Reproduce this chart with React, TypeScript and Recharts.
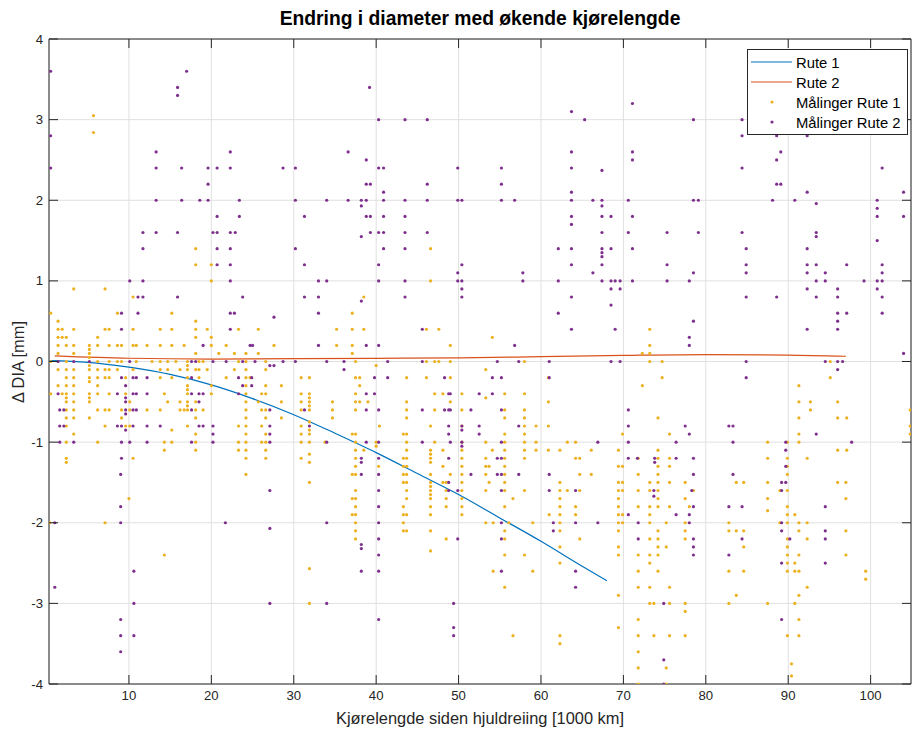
import React from 'react';
import {
  ScatterChart,
  Scatter,
  XAxis,
  YAxis,
  CartesianGrid,
  ReferenceLine,
  Legend,
} from 'recharts';

const FONT = '"Liberation Sans", Arial, Helvetica, sans-serif';
const AXIS = '#262626';
const GRID = '#e0e0e0';
const BLUE = '#0072BD';
const RED = '#D95319';
const YELLOW = '#EDB120';
const PURPLE = '#7E2F8E';

// plot box in page pixels (margins + axis sizes below give these)
const PLOT_TOP = 39;
const PLOT_LEFT = 49;
const PLOT_RIGHT = 911;

const xTicks = [10, 20, 30, 40, 50, 60, 70, 80, 90, 100];
const yTicks = [-4, -3, -2, -1, 0, 1, 2, 3, 4];
const xDomain: [number, number] = [0.3, 104.9];
const yDomain: [number, number] = [-4, 4];

// fitted curves
const rute1X = [0.3, 5, 10, 15, 20, 25, 30, 35, 40, 45, 50, 55, 60, 65, 68];
const rute1Y = [0.01, -0.01, -0.07, -0.16, -0.29, -0.46, -0.66, -0.89, -1.13, -1.39, -1.65, -1.94, -2.23, -2.54, -2.72];
const rute2X = [1, 10, 20, 30, 40, 50, 60, 70, 80, 90, 97];
const rute2Y = [0.07, 0.04, 0.03, 0.035, 0.04, 0.045, 0.06, 0.075, 0.085, 0.08, 0.065];

// measurements, grouped by delta value: [dDIA, kilometres...]
const maalingerRute1: [number, number[]][] = [
  [3.05, [5.7]],
  [2.84, [5.7]],
  [1.4, [18.1, 46.6]],
  [1.2, [18.1, 20.0]],
  [1.0, [20.0, 46.6]],
  [0.9, [3.3, 7.1]],
  [0.8, [10.5, 38.5]],
  [0.6, [0.5, 8.6, 15.2, 37.1]],
  [0.5, [1.4, 18.1]],
  [0.4, [1.4, 1.9, 3.3, 7.1, 7.6, 10.5, 13.8, 15.2, 18.1, 19.5, 23.3, 25.7, 35.2, 37.1, 38.5, 46.1, 47.6, 73.2]],
  [0.3, [1.4, 1.9, 2.4, 6.2, 18.1, 20.0, 54.1]],
  [0.2, [1.4, 2.4, 3.3, 5.2, 6.2, 7.6, 8.6, 9.1, 10.5, 10.9, 12.2, 13.8, 15.2, 16.7, 20.0, 21.8, 27.6, 35.2, 37.1, 49.0, 73.2]],
  [0.15, [5.2]],
  [0.1, [1.4, 3.3, 5.2, 18.1, 20.9, 22.8, 24.2, 25.7, 37.1, 72.3, 73.2]],
  [0.05, [5.2]],
  [0.0, [0.5, 2.4, 6.2, 7.6, 8.6, 9.1, 10.9, 12.8, 13.8, 14.7, 15.7, 17.1, 18.5, 19.0, 23.3, 24.2, 26.6, 37.5, 46.1, 47.1, 47.6, 49.0, 58.0, 73.2, 74.7, 95.1]],
  [-0.05, [5.2, 17.1, 40.0]],
  [-0.1, [1.4, 2.4, 3.3, 5.2, 6.2, 7.1, 7.6, 8.6, 10.5, 13.8, 14.7, 16.2, 17.1, 18.1, 18.5, 19.5, 22.8, 24.2, 26.6, 53.3]],
  [-0.2, [2.4, 3.3, 5.2, 6.2, 7.1, 7.6, 9.6, 13.8, 15.2, 17.1, 18.5, 21.8, 24.2, 24.7, 30.9, 31.9, 37.5, 38.0, 43.7, 46.1, 49.0, 60.9, 74.7, 95.1]],
  [-0.25, [5.2]],
  [-0.3, [1.4, 2.4, 3.3, 6.2, 17.1, 20.0, 24.2, 26.6, 28.5, 38.0, 72.3, 91.3]],
  [-0.35, [17.1]],
  [-0.4, [0.5, 1.9, 2.4, 3.3, 5.2, 6.2, 7.6, 9.6, 14.3, 17.1, 20.0, 24.2, 26.1, 26.6, 30.9, 31.9, 37.5, 47.1, 48.1, 50.4, 55.6, 58.0]],
  [-0.45, [2.4, 5.2, 31.9, 53.3]],
  [-0.5, [2.4, 3.3, 5.2, 10.1, 14.7, 16.2, 17.1, 18.1, 24.2, 25.7, 28.5, 30.9, 31.9, 34.7, 37.5, 38.0, 39.0, 43.7, 49.0, 60.9, 91.3, 92.7, 96.0]],
  [-0.55, [17.1, 31.9]],
  [-0.6, [2.4, 3.3, 6.2, 7.1, 7.6, 9.1, 10.1, 12.2, 13.8, 16.2, 16.7, 17.1, 18.1, 19.0, 24.2, 26.1, 26.6, 30.9, 31.9, 34.7, 37.5, 43.7, 47.1, 50.4, 55.6, 58.0, 92.7, 104.8]],
  [-0.7, [2.4, 3.3, 5.2, 9.1, 18.1, 24.2, 26.6, 28.5, 34.7, 43.7, 55.6, 58.0, 74.2, 91.3, 96.0, 97.1]],
  [-0.75, [31.9]],
  [-0.8, [2.4, 7.1, 9.6, 10.1, 17.1, 23.3, 24.2, 26.1, 30.9, 40.4, 46.6, 50.4, 58.0, 59.4, 60.9, 104.8]],
  [-0.85, [15.2, 31.9]],
  [-0.9, [3.3, 18.1, 24.2, 26.6, 30.9, 31.9, 37.1, 37.5, 43.3, 43.7, 55.6, 58.0, 69.9, 75.6, 91.3, 104.8]],
  [-1.0, [2.4, 6.2, 14.3, 15.2, 18.1, 23.3, 24.2, 26.1, 26.6, 30.9, 31.9, 33.8, 37.5, 40.0, 43.7, 47.1, 50.4, 53.3, 55.6, 58.0, 59.4, 63.2, 64.2, 87.5, 89.9, 91.3]],
  [-1.05, [40.0]],
  [-1.1, [14.3, 18.1, 23.3, 24.2, 26.6, 37.5, 38.5, 43.7, 46.6, 48.1, 50.4, 54.1, 55.6, 58.0, 59.4, 60.9, 62.3, 66.1, 69.4, 74.2, 96.0, 97.1]],
  [-1.15, [31.9, 46.6]],
  [-1.2, [2.4, 10.5, 24.2, 26.6, 30.9, 37.5, 43.3, 43.7, 46.6, 50.4, 53.3, 55.6, 58.0, 64.2, 64.7, 71.8, 74.2, 75.6, 87.5, 89.9, 92.3]],
  [-1.25, [2.4, 31.9, 46.6]],
  [-1.3, [37.5, 40.3, 43.3, 43.7, 48.1, 50.4, 53.3, 53.7, 55.6, 69.4, 69.9, 74.2, 75.6, 89.9]],
  [-1.4, [24.2, 37.1, 37.5, 43.3, 43.7, 46.6, 49.0, 50.4, 53.3, 55.6, 64.7, 66.1, 71.8, 74.2, 89.9]],
  [-1.5, [31.9, 43.3, 43.7, 46.6, 48.1, 48.5, 50.4, 53.7, 55.6, 62.3, 69.4, 69.9, 73.2, 74.2, 75.6, 77.5, 83.7, 84.6, 87.5, 96.0, 97.0]],
  [-1.55, [46.6]],
  [-1.6, [37.5, 43.7, 46.6, 48.5, 50.4, 53.3, 55.6, 58.0, 62.3, 63.2, 64.7, 69.4, 69.9, 71.8, 73.2, 74.2, 78.5, 89.0, 89.9]],
  [-1.65, [46.6]],
  [-1.7, [10.0, 37.1, 37.5, 43.7, 46.6, 48.5, 50.4, 56.6, 62.3, 69.4, 74.2, 77.5, 87.5, 97.0]],
  [-1.8, [37.5, 43.3, 46.6, 48.5, 50.4, 55.6, 62.3, 64.2, 69.4, 71.8, 73.2, 74.2, 75.6, 78.0, 89.9]],
  [-1.85, [87.5]],
  [-1.9, [37.1, 37.5, 43.3, 43.7, 46.6, 50.4, 61.0, 62.3, 64.2, 69.4, 69.9, 73.2, 89.9, 90.8]],
  [-2.0, [0.4, 7.1, 37.5, 43.3, 53.3, 54.2, 56.1, 59.0, 62.3, 69.4, 69.9, 73.2, 75.2, 77.5, 82.8, 89.0, 89.9, 91.3, 92.3]],
  [-2.1, [37.5, 43.3, 43.7, 46.6, 55.6, 62.3, 69.4, 74.2, 77.5, 82.8, 83.7, 84.6, 91.3, 97.0]],
  [-2.2, [37.5, 48.5, 55.6, 64.7, 73.2, 74.2, 77.5, 89.9, 92.3]],
  [-2.3, [62.3, 69.4, 74.2, 75.2, 84.6, 89.9]],
  [-2.35, [46.6]],
  [-2.4, [14.3, 55.6, 58.0, 69.4, 71.8, 73.2, 74.2, 89.9, 91.3, 97.0]],
  [-2.5, [62.3, 73.2, 89.9, 90.8]],
  [-2.57, [31.9]],
  [-2.6, [54.2, 59.0, 71.8, 74.2, 82.8, 84.6, 89.9, 90.8, 91.3, 99.4]],
  [-2.7, [99.4]],
  [-2.8, [55.6, 71.8, 73.2, 75.6, 92.3]],
  [-2.9, [69.4, 83.7, 91.3]],
  [-3.0, [31.9, 73.2, 73.7, 75.6, 77.5, 82.8, 87.5, 90.8]],
  [-3.1, [77.5]],
  [-3.2, [71.8, 91.3]],
  [-3.3, [69.4]],
  [-3.4, [56.6, 62.3, 71.8, 73.7, 75.6, 77.5, 89.9, 91.3]],
  [-3.5, [62.3]],
  [-3.6, [71.8]],
  [-3.75, [90.4]],
  [-3.8, [71.8, 75.2]],
  [-3.9, [90.4]],
  [-4.0, [71.8, 75.2]],
];

const maalingerRute2: [number, number[]][] = [
  [3.6, [0.5, 17.0]],
  [3.4, [15.9, 39.2]],
  [3.3, [15.9]],
  [3.2, [71.1]],
  [3.1, [63.7]],
  [3.0, [40.3, 43.5, 46.2, 65.3, 78.5, 84.4]],
  [2.8, [0.5, 84.4, 88.6, 92.3]],
  [2.6, [13.3, 22.3, 36.6, 63.7, 71.1, 89.1]],
  [2.5, [38.8, 71.1, 88.6]],
  [2.4, [0.5, 13.3, 16.4, 19.6, 20.7, 22.3, 28.7, 30.2, 40.3, 40.9, 49.9, 55.2, 63.7, 84.4, 101.4]],
  [2.37, [67.4]],
  [2.2, [19.6, 38.8, 39.3, 46.2, 55.2, 88.6, 89.1]],
  [2.1, [40.9, 63.7, 92.3, 104.0]],
  [2.0, [13.3, 16.4, 18.6, 19.6, 23.4, 30.2, 34.0, 36.6, 38.2, 38.8, 40.9, 43.5, 46.2, 49.9, 50.4, 55.2, 56.8, 63.7, 66.3, 67.4, 70.6, 78.5, 79.1, 88.1, 90.8, 100.8]],
  [1.96, [93.4]],
  [1.93, [38.2, 67.4]],
  [1.9, [100.8]],
  [1.8, [20.7, 23.4, 31.3, 38.8, 39.3, 40.9, 43.5, 63.7, 67.4, 68.5, 71.1, 100.8, 104.0]],
  [1.7, [63.7]],
  [1.6, [11.7, 13.3, 15.9, 20.2, 20.7, 22.3, 22.9, 39.3, 40.3, 40.9, 43.5, 46.2, 67.4, 70.6, 75.3, 79.1, 84.4, 93.4]],
  [1.55, [38.2, 93.4]],
  [1.5, [100.8]],
  [1.4, [11.7, 20.7, 22.3, 30.2, 40.9, 43.5, 62.1, 63.7, 67.4, 68.5, 71.1, 84.9, 92.3]],
  [1.35, [67.4]],
  [1.3, [67.4]],
  [1.2, [20.7, 22.3, 31.3, 40.3, 50.4, 63.7, 67.4, 75.3, 84.9, 92.3, 93.4, 97.1, 101.4]],
  [1.1, [49.9, 57.8, 66.3, 78.5, 84.9, 92.3, 94.5, 101.4]],
  [1.0, [10.1, 11.7, 22.3, 33.0, 34.0, 40.3, 43.5, 49.9, 50.4, 57.8, 62.1, 67.4, 68.5, 69.0, 69.6, 71.1, 75.3, 78.0, 93.4, 94.5, 99.2, 100.8, 101.4]],
  [0.9, [50.4, 68.5, 69.6, 92.3, 96.0, 100.8]],
  [0.8, [11.1, 11.7, 15.9, 23.8, 31.3, 33.0, 43.5, 50.4, 63.7, 84.9, 88.6, 93.4, 96.0, 101.4]],
  [0.75, [38.2]],
  [0.7, [68.5]],
  [0.6, [9.1, 11.1, 22.3, 22.8, 33.0, 62.1, 96.0, 97.1, 101.4]],
  [0.55, [27.6]],
  [0.5, [78.5, 96.0]],
  [0.4, [9.1, 22.3, 45.6, 63.7, 69.0, 92.3, 96.0]],
  [0.3, [78.0]],
  [0.2, [19.0, 24.7, 25.0, 33.0, 38.8, 40.3, 56.8, 78.0]],
  [0.1, [104.0]],
  [0.0, [1.4, 3.3, 5.2, 10.1, 17.6, 18.1, 20.2, 21.8, 23.8, 25.3, 28.7, 30.2, 34.0, 36.1, 41.4, 45.6, 54.7, 57.3, 61.0, 68.5, 69.6, 84.9, 94.5, 96.0, 96.6]],
  [-0.05, [27.1, 27.6]],
  [-0.1, [36.1, 96.0]],
  [-0.2, [9.1, 10.5, 10.9, 12.2, 17.6, 23.3, 24.9, 39.8, 41.4, 48.3, 54.1, 55.2, 61.0, 84.9]],
  [-0.3, [9.6, 23.8, 24.9]],
  [-0.4, [1.4, 8.6, 10.5, 10.9, 12.2, 17.6, 18.5, 19.0, 23.3, 38.8, 39.8, 48.8, 49.0, 52.5, 54.1]],
  [-0.45, [9.6]],
  [-0.5, [9.6, 18.5]],
  [-0.6, [1.6, 2.1, 9.6, 10.5, 10.9, 17.6, 27.1, 31.3, 38.8, 40.3, 45.6, 48.3, 48.8, 49.0, 51.5, 55.2, 70.6]],
  [-0.65, [9.6]],
  [-0.8, [1.6, 2.1, 8.6, 9.1, 10.5, 12.2, 13.8, 18.5, 19.0, 20.2, 27.1, 31.9, 48.8, 50.4, 52.5, 57.3, 70.6, 77.5, 82.8, 83.3]],
  [-0.85, [9.6, 50.4]],
  [-0.9, [20.2, 27.1, 48.8, 52.5, 78.0, 93.4]],
  [-1.0, [1.6, 3.3, 9.1, 10.1, 12.2, 17.6, 20.2, 27.1, 34.0, 38.8, 40.3, 45.6, 49.0, 50.4, 55.2, 66.9, 70.6, 76.4, 83.3, 89.7, 97.7]],
  [-1.05, [50.4]],
  [-1.1, [89.7]],
  [-1.2, [9.1, 38.2, 40.3, 48.8, 54.7, 55.2, 70.6, 71.7, 73.8, 76.4, 78.5]],
  [-1.25, [38.2, 73.8]],
  [-1.3, [89.7]],
  [-1.4, [9.0, 38.2, 40.3, 51.5, 54.7, 55.2, 57.3, 61.0, 78.5, 83.3]],
  [-1.5, [48.8, 89.2, 89.7]],
  [-1.6, [27.1, 40.3, 48.8, 49.9, 55.2, 61.0, 64.2, 73.7, 78.3, 89.2]],
  [-1.67, [73.7]],
  [-1.8, [9.0, 40.3, 78.5, 82.8, 84.4, 94.5]],
  [-1.9, [70.6, 76.4, 78.0]],
  [-2.0, [1.0, 9.0, 21.7, 34.0, 40.3, 55.2, 61.5, 64.2, 66.9, 71.8, 78.0, 89.2]],
  [-2.07, [27.1]],
  [-2.1, [61.5, 89.2, 94.5]],
  [-2.2, [40.3, 49.9, 55.2, 71.8, 78.5, 84.4, 90.2, 94.5]],
  [-2.27, [38.2]],
  [-2.3, [78.5]],
  [-2.32, [38.2]],
  [-2.4, [40.3, 78.5, 82.8]],
  [-2.5, [89.2, 94.5]],
  [-2.6, [10.6, 38.2, 40.3, 55.2, 64.2]],
  [-2.8, [1.0, 64.2]],
  [-3.0, [10.6, 27.1, 34.0, 49.4, 74.9]],
  [-3.2, [9.0, 40.3, 89.2]],
  [-3.3, [49.4]],
  [-3.4, [9.0, 10.6, 49.4]],
  [-3.6, [9.0]],
  [-3.7, [74.9]],
  [-4.0, [74.9]],
];

const zipLine = (xs: number[], ys: number[]) => xs.map((x, i) => ({ x, y: ys[i] }));
const flattenRows = (rows: [number, number[]][]) =>
  rows.flatMap(([y, xs]) => xs.map((x) => ({ x, y })));

const rute1 = zipLine(rute1X, rute1Y);
const rute2 = zipLine(rute2X, rute2Y);
const pts1 = flattenRows(maalingerRute1);
const pts2 = flattenRows(maalingerRute2);

const dot = (color: string) => (p: any) =>
  <circle cx={p.cx} cy={p.cy} r={1.6} fill={color} />;
const noDot = () => <g />;

const XTick = (props: any) => {
  const { x, y, payload } = props;
  return (
    <g>
      <line x1={x} y1={y} x2={x} y2={y - 9} stroke={AXIS} />
      <line x1={x} y1={PLOT_TOP} x2={x} y2={PLOT_TOP + 9} stroke={AXIS} />
      <text x={x} y={y + 16} textAnchor="middle" fill={AXIS} fontSize={13.2} fontFamily={FONT}>
        {payload.value}
      </text>
    </g>
  );
};

const YTick = (props: any) => {
  const { x, y, payload } = props;
  return (
    <g>
      <line x1={x} y1={y} x2={x + 9} y2={y} stroke={AXIS} />
      <line x1={PLOT_RIGHT - 9} y1={y} x2={PLOT_RIGHT} y2={y} stroke={AXIS} />
      <text x={x - 6} y={y + 4.6} textAnchor="end" fill={AXIS} fontSize={13.2} fontFamily={FONT}>
        {payload.value}
      </text>
    </g>
  );
};

const LegendBox = () => (
  <svg width={161} height={86} style={{ display: 'block' }}>
    <rect x={0.5} y={0.5} width={160} height={85} fill="#fff" stroke={AXIS} />
    <line x1={4} y1={13} x2={45} y2={13} stroke={BLUE} strokeWidth={1.2} />
    <line x1={4} y1={33} x2={45} y2={33} stroke={RED} strokeWidth={1.2} />
    <circle cx={25} cy={53} r={1.6} fill={YELLOW} />
    <circle cx={25} cy={73} r={1.6} fill={PURPLE} />
    {['Rute 1', 'Rute 2', 'Målinger Rute 1', 'Målinger Rute 2'].map((t, i) => (
      <text key={t} x={49} y={18.5 + i * 20} fontSize={14.8} fill="#000" fontFamily={FONT}>
        {t}
      </text>
    ))}
  </svg>
);

export default function App() {
  return (
    <div
      style={{
        position: 'absolute',
        left: 0,
        top: 0,
        width: 912,
        height: 733,
        background: '#fff',
        fontFamily: FONT,
        color: '#000',
      }}
    >
      <ScatterChart width={912} height={733} margin={{ top: 39, right: 1, bottom: 0, left: 0 }}>
        <CartesianGrid stroke={GRID} />
        <XAxis
          type="number"
          dataKey="x"
          domain={xDomain}
          ticks={xTicks}
          allowDataOverflow
          height={49}
          tickSize={0}
          tickMargin={0}
          tickLine={false}
          axisLine={{ stroke: AXIS }}
          tick={<XTick />}
          interval={0}
        />
        <YAxis
          type="number"
          dataKey="y"
          domain={yDomain}
          ticks={yTicks}
          allowDataOverflow
          width={49}
          tickSize={0}
          tickMargin={0}
          tickLine={false}
          axisLine={{ stroke: AXIS }}
          tick={<YTick />}
          interval={0}
        />
        <ReferenceLine y={4} stroke={AXIS} />
        <ReferenceLine x={104.9} stroke={AXIS} />
        <Scatter
          name="Rute 1"
          data={rute1}
          line={{ stroke: BLUE, strokeWidth: 1.2 }}
          lineJointType="monotoneX"
          shape={noDot}
          isAnimationActive={false}
        />
        <Scatter
          name="Rute 2"
          data={rute2}
          line={{ stroke: RED, strokeWidth: 1.2 }}
          lineJointType="monotoneX"
          shape={noDot}
          isAnimationActive={false}
        />
        <Scatter name="Målinger Rute 1" data={pts1} shape={dot(YELLOW)} isAnimationActive={false} />
        <Scatter name="Målinger Rute 2" data={pts2} shape={dot(PURPLE)} isAnimationActive={false} />
        <Legend
          layout="horizontal"
          verticalAlign="middle"
          align="center"
          wrapperStyle={{ left: 747, top: 49, width: 161, height: 86 }}
          content={() => <LegendBox />}
        />
      </ScatterChart>
      <div
        style={{
          position: 'absolute',
          top: 8,
          left: PLOT_LEFT,
          width: PLOT_RIGHT - PLOT_LEFT,
          textAlign: 'center',
          fontWeight: 'bold',
          fontSize: 19.3,
          lineHeight: '22px',
        }}
      >
        Endring i diameter med økende kjørelengde
      </div>
      <div
        style={{
          position: 'absolute',
          top: 708,
          left: PLOT_LEFT,
          width: PLOT_RIGHT - PLOT_LEFT,
          textAlign: 'center',
          fontSize: 16.4,
          lineHeight: '20px',
          color: AXIS,
        }}
      >
        Kjørelengde siden hjuldreiing [1000 km]
      </div>
      <div
        style={{
          position: 'absolute',
          left: 18 - 100,
          top: 362 - 10,
          width: 200,
          textAlign: 'center',
          fontSize: 16.4,
          lineHeight: '20px',
          color: AXIS,
          transform: 'rotate(-90deg)',
          transformOrigin: '50% 50%',
        }}
      >
        Δ DIA [mm]
      </div>
    </div>
  );
}
